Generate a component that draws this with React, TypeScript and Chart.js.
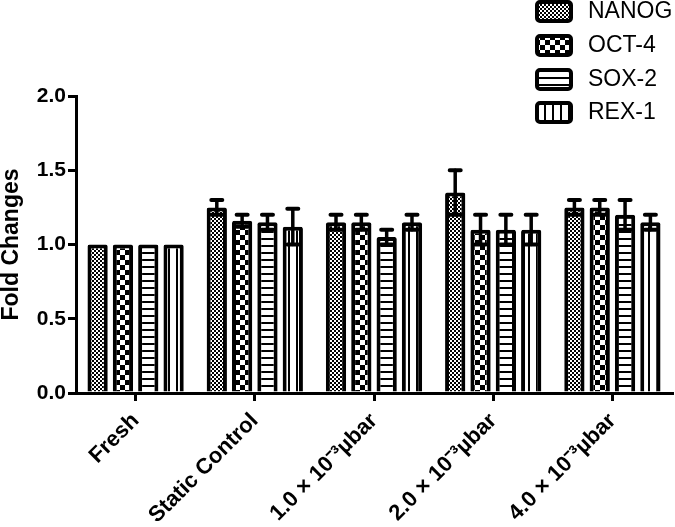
import React, { useEffect, useRef } from "react";
import { Chart, registerables } from "chart.js";

Chart.register(...registerables);

const categories = [
  "Fresh",
  "Static Control",
  "1.0 × 10⁻³µbar",
  "2.0 × 10⁻³µbar",
  "4.0 × 10⁻³µbar",
];
const seriesNames = ["NANOG", "OCT-4", "SOX-2", "REX-1"];
const nanog = [1.0, 1.25, 1.15, 1.35, 1.25];
const nanogErr = [0, 0.05, 0.05, 0.15, 0.05];
const oct4 = [1.0, 1.16, 1.15, 1.1, 1.25];
const oct4Err = [0, 0.04, 0.05, 0.1, 0.05];
const sox2 = [1.0, 1.15, 1.05, 1.1, 1.2];
const sox2Err = [0, 0.05, 0.05, 0.1, 0.1];
const rex1 = [1.0, 1.12, 1.15, 1.1, 1.15];
const rex1Err = [0, 0.12, 0.05, 0.1, 0.05];
const yTicks = [0, 0.5, 1.0, 1.5, 2.0];

const FONT = "'Liberation Sans', Arial, sans-serif";

function makePattern(kind: string): CanvasPattern | string {
  const c = document.createElement("canvas");
  const ctx = c.getContext("2d");
  if (!ctx) return "#fff";
  if (kind === "fine") {
    c.width = 4; c.height = 4;
    ctx.fillStyle = "#fff"; ctx.fillRect(0, 0, 4, 4);
    ctx.fillStyle = "#000"; ctx.fillRect(0, 0, 2, 2); ctx.fillRect(2, 2, 2, 2);
  } else if (kind === "coarse") {
    c.width = 10; c.height = 10;
    ctx.fillStyle = "#000"; ctx.fillRect(0, 0, 10, 10);
    ctx.fillStyle = "#fff"; ctx.fillRect(0, 0, 5, 5); ctx.fillRect(5, 5, 5, 5);
  } else if (kind === "hstripe") {
    c.width = 7; c.height = 7;
    ctx.fillStyle = "#fff"; ctx.fillRect(0, 0, 7, 7);
    ctx.fillStyle = "#000"; ctx.fillRect(0, 0, 7, 2);
  } else {
    c.width = 8; c.height = 8;
    ctx.fillStyle = "#fff"; ctx.fillRect(0, 0, 8, 8);
    ctx.fillStyle = "#000"; ctx.fillRect(0, 0, 2, 8);
  }
  const p = ctx.createPattern(c, "repeat");
  return p || "#fff";
}

export default function App() {
  const ref = useRef<HTMLCanvasElement | null>(null);
  useEffect(() => {
    document.body.style.margin = "0";
    const canvas = ref.current;
    if (!canvas) return;
    const patterns = [
      makePattern("fine"),
      makePattern("coarse"),
      makePattern("hstripe"),
      makePattern("vstripe"),
    ];
    const values = [nanog, oct4, sox2, rex1];
    const errs = [nanogErr, oct4Err, sox2Err, rex1Err];

    const errorBars = {
      id: "errorBars",
      afterDatasetsDraw(chart: any) {
        const ctx = chart.ctx;
        const ys = chart.scales.y;
        ctx.save();
        ctx.strokeStyle = "#000";
        ctx.lineCap = "round";
        chart.data.datasets.forEach((ds: any, di: number) => {
          const meta = chart.getDatasetMeta(di);
          meta.data.forEach((el: any, i: number) => {
            const v = values[di][i];
            const e = errs[di][i];
            if (!e) return;
            const x = el.x;
            const yt = ys.getPixelForValue(v + e);
            const yb = ys.getPixelForValue(v - e);
            ctx.lineWidth = 3.5;
            ctx.beginPath();
            ctx.moveTo(x, yt);
            ctx.lineTo(x, yb);
            ctx.stroke();
            ctx.lineWidth = 4;
            ctx.beginPath();
            ctx.moveTo(x - 5.5, yt);
            ctx.lineTo(x + 5.5, yt);
            ctx.moveTo(x - 5.5, yb);
            ctx.lineTo(x + 5.5, yb);
            ctx.stroke();
          });
        });
        ctx.restore();
      },
    };

    const legendPlugin = {
      id: "customLegend",
      afterDraw(chart: any) {
        const ctx = chart.ctx;
        ctx.save();
        const rowY = [11, 45, 79, 112];
        seriesNames.forEach((name, i) => {
          const bx = 537;
          const by = rowY[i] - 9;
          const bw = 34;
          const bh = 19;
          ctx.fillStyle = patterns[i] as any;
          ctx.beginPath();
          (ctx as any).roundRect(bx, by, bw, bh, 3);
          ctx.fill();
          ctx.lineWidth = 4;
          ctx.strokeStyle = "#000";
          ctx.stroke();
          ctx.fillStyle = "#000";
          ctx.font = "23px " + FONT;
          ctx.textAlign = "left";
          ctx.textBaseline = "middle";
          ctx.fillText(name, 588, rowY[i] + 1);
        });
        ctx.restore();
      },
    };

    const chart = new Chart(canvas, {
      type: "bar",
      data: {
        labels: categories,
        datasets: seriesNames.map((name, i) => ({
          label: name,
          data: values[i],
          backgroundColor: patterns[i] as any,
          borderColor: "#000",
          borderWidth: 4,
          borderRadius: 2,
          barPercentage: 0.8,
          categoryPercentage: 0.85,
        })),
      },
      options: {
        responsive: false,
        animation: false,
        layout: { padding: { top: 96, right: 3, left: 0, bottom: 0 } },
        plugins: {
          legend: { display: false },
          tooltip: { enabled: false },
        },
        scales: {
          x: {
            afterFit(scale: any) {
              scale.height = 134;
            },
            grid: {
              display: true,
              drawOnChartArea: false,
              drawTicks: true,
              tickLength: 8,
              color: "#000",
              lineWidth: 3,
              offset: false,
            },
            border: { display: true, color: "#000", width: 3 },
            ticks: {
              color: "#000",
              maxRotation: 45,
              minRotation: 45,
              padding: 7,
              font: { family: FONT, size: 22, weight: "bold" },
            },
          },
          y: {
            min: 0,
            max: 2,
            afterFit(scale: any) {
              scale.width = 76;
            },
            afterBuildTicks(scale: any) {
              scale.ticks = yTicks.map((v) => ({ value: v }));
            },
            grid: {
              display: true,
              drawOnChartArea: false,
              drawTicks: true,
              tickLength: 8,
              color: "#000",
              lineWidth: 3,
            },
            border: { display: true, color: "#000", width: 3 },
            ticks: {
              color: "#000",
              padding: 2,
              callback: (v: any) => Number(v).toFixed(1),
              font: { family: FONT, size: 21, weight: "bold" },
            },
            title: {
              display: true,
              text: "Fold Changes",
              color: "#000",
              padding: { top: -2, bottom: 0 },
              font: { family: FONT, size: 23, weight: "bold" },
            },
          },
        },
      },
      plugins: [errorBars, legendPlugin],
    } as any);
    return () => chart.destroy();
  }, []);
  return (
    <div style={{ position: "absolute", left: 0, top: 0, width: 675, height: 527 }}>
      <canvas ref={ref} width={675} height={527} style={{ display: "block" }} />
    </div>
  );
}
